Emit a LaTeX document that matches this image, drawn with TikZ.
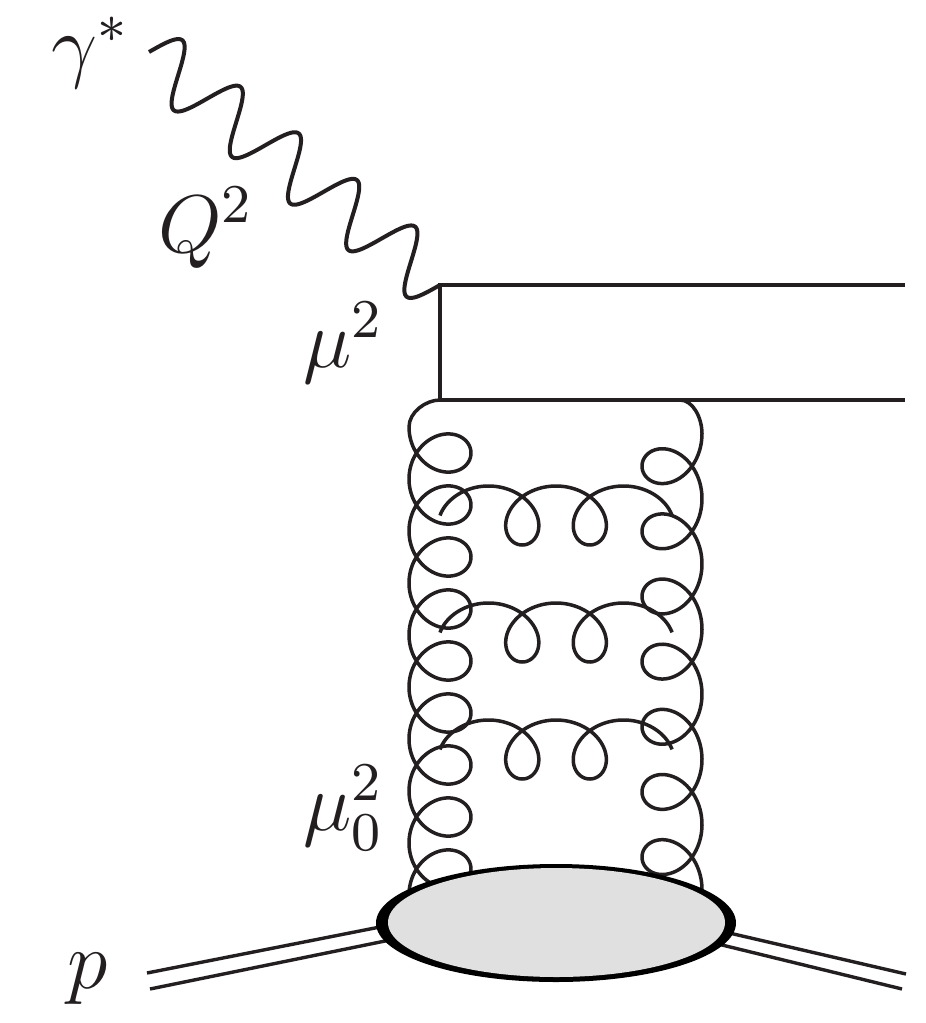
\documentclass[tikz,border=0pt]{standalone}
\usepackage{tikz}
\definecolor{ink}{HTML}{231F20}
\definecolor{blobgray}{HTML}{E0E0E0}
\begin{document}
\begin{tikzpicture}[x=1pt,y=-1pt,
  fermion/.style={draw=ink, line width=4pt, line join=miter},
  photonline/.style={draw=ink, line width=4pt, line join=round},
  gluonline/.style={draw=ink, line width=3.5pt, line join=round},
  protonline/.style={draw=ink, line width=3.4pt},
  lbl/.style={anchor=base west, inner sep=0pt, text=ink, font=\large, scale=6.83}]
\useasboundingbox (0,0) rectangle (926,1023);
\fill[white] (0,0) rectangle (926,1023);

% coordinates
\coordinate (gstart) at (149,52);
\coordinate (v1) at (440,284.5);
\coordinate (v2) at (440,400);
\coordinate (qt) at (905,284.5);
\coordinate (qb) at (905,400);
\coordinate (gR0) at (680,400);

% photon
\draw[photonline] plot[domain=0:372.8, samples=300, variable=\s]
  ({149+0.7806*\s+18.75*sin(4.8283*\s)}, {52+0.625*\s-23.418*sin(4.8283*\s)});

% quark lines
\draw[fermion] (qt) -- (v1) -- (v2) -- (qb);

% left vertical gluon
\draw[gluonline] (v2) .. controls (426,400) and (409,412) .. (409,427)
  -- plot[domain=pi:19.5*pi, samples=700, variable=\t]
  ({440+31*cos(\t r)}, {401+8.276*\t-31*sin(\t r)});

% right vertical gluon
\draw[gluonline] (gR0) .. controls (693,400) and (702,418) .. (702,433.6)
  -- plot[domain=pi:15.5*pi, samples=600, variable=\t]
  ({672-30*cos(\t r)}, {401+10.37*\t-32*sin(\t r)});

% rungs
\foreach \yy in {515.5,632.5,749.5}{
  \draw[gluonline] plot[domain=pi/2:5.5*pi, samples=260, variable=\t]
    ({440+10.75*(\t-pi/2)-31.6*(sin(\t r)-1)}, {\yy+29.5*cos(\t r)});
}

% proton lines
\coordinate (pL1) at (147,973);
\coordinate (pL2) at (150,989);
\coordinate (bL1) at (385,926);
\coordinate (bL2) at (390,940);
\coordinate (pR1) at (906,974);
\coordinate (pR2) at (902,989);
\coordinate (bR1) at (725,932);
\coordinate (bR2) at (718,944);
\draw[protonline] (pL1) -- (bL1);
\draw[protonline] (pL2) -- (bL2);
\draw[protonline] (bR1) -- (pR1);
\draw[protonline] (bR2) -- (pR2);

% blob
\fill[black] (556,923) ellipse [x radius=180pt, y radius=59pt];
\fill[blobgray] (556.5,922.5) ellipse [x radius=168.5pt, y radius=54.5pt];

% labels
\node[lbl] (lgam) at (50,72) {$\gamma^*$};
\node[lbl] (lQ) at (157,252) {$Q^2$};
\node[lbl] (lmu) at (302,367) {$\mu^2$};
\node[lbl] (lmu0) at (302,830) {$\mu_0^2$};
\node[lbl] (lp) at (66,988) {$p$};
\end{tikzpicture}
\end{document}
